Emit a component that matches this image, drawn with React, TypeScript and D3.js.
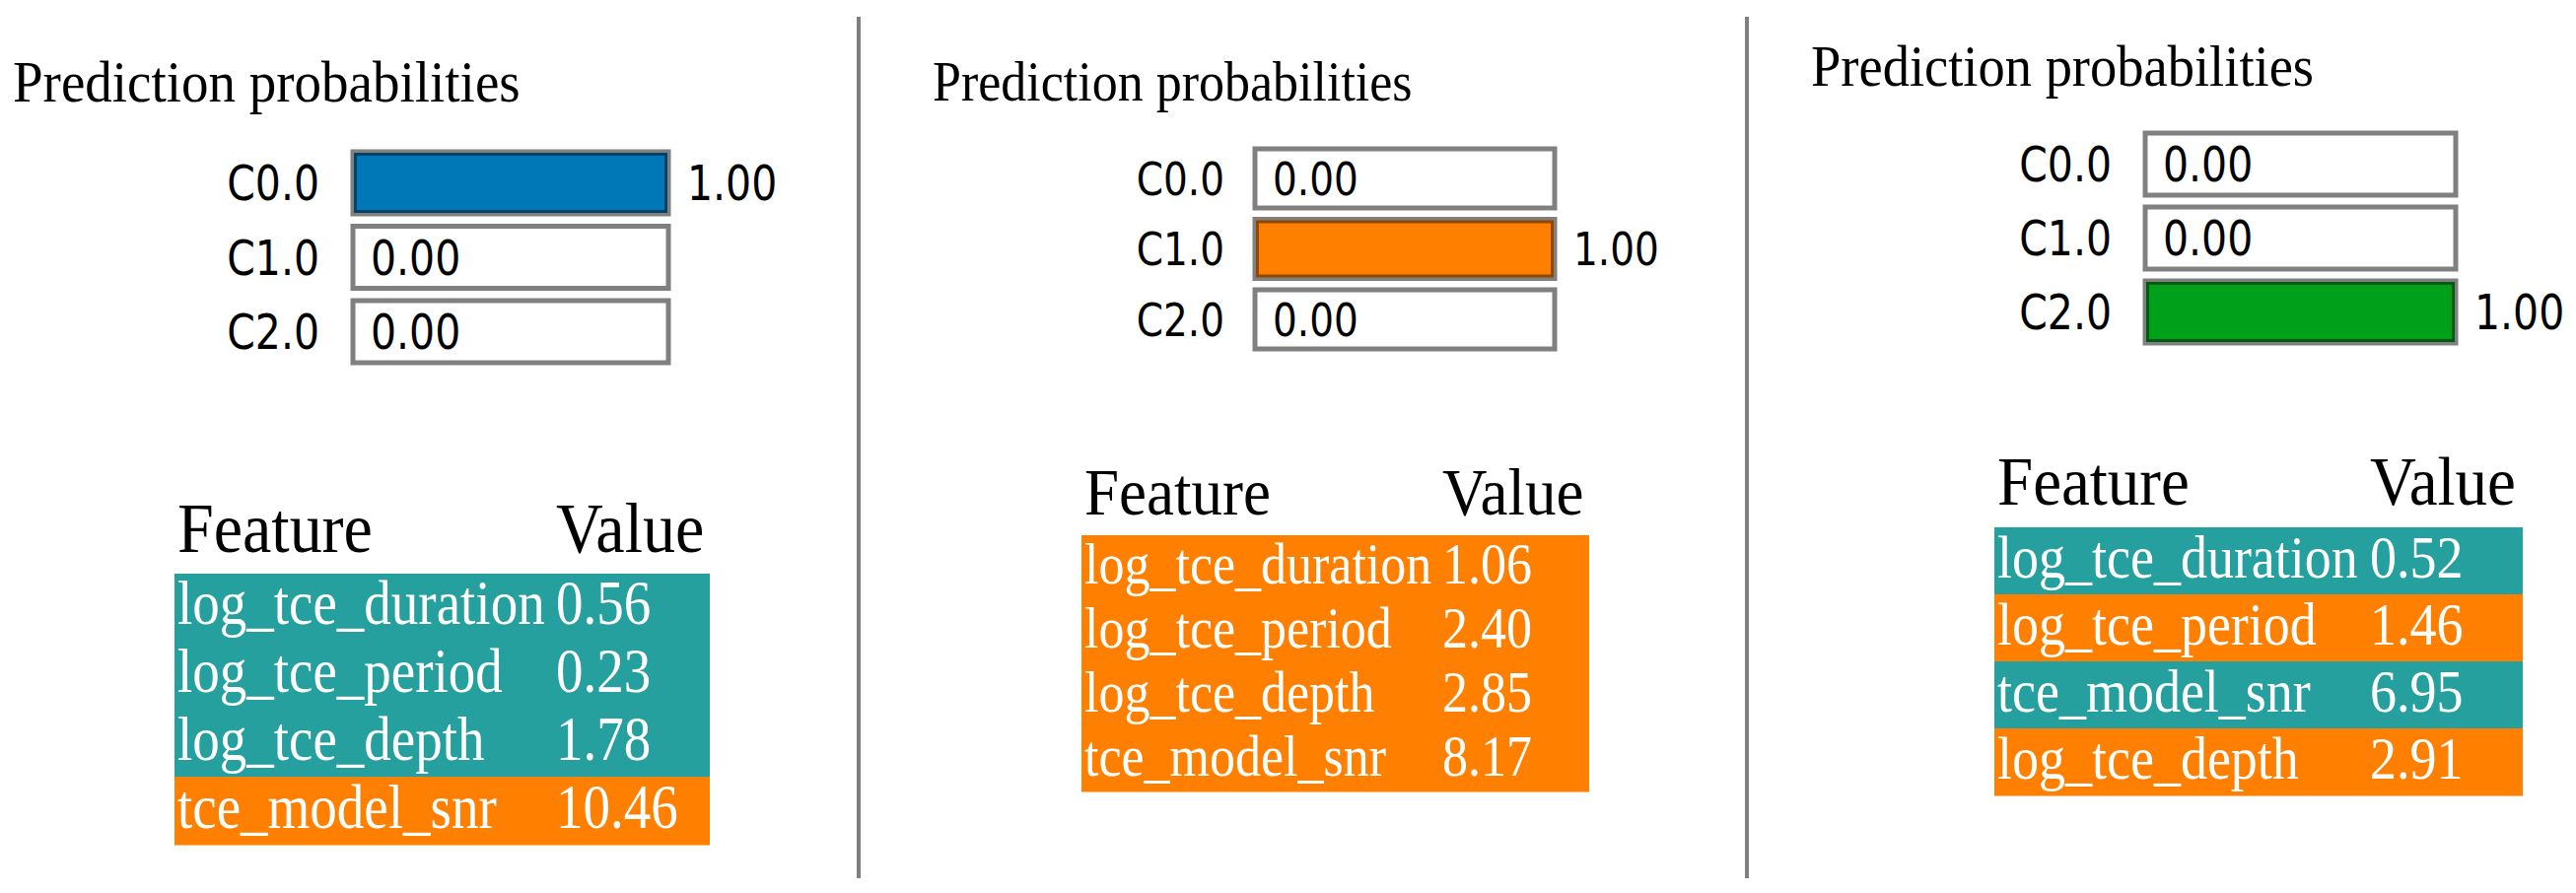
import React from 'react';
import * as d3 from 'd3';

// class names and predicted probabilities for the three explanations
const classNames = ['C0.0', 'C1.0', 'C2.0'];
const probsA = [1.0, 0.0, 0.0];
const probsB = [0.0, 1.0, 0.0];
const probsC = [0.0, 0.0, 1.0];

// feature tables
const featuresA = ['log_tce_duration', 'log_tce_period', 'log_tce_depth', 'tce_model_snr'];
const valuesA = [0.56, 0.23, 1.78, 10.46];
const sidesA = ['neg', 'neg', 'neg', 'pos'];

const featuresB = ['log_tce_duration', 'log_tce_period', 'log_tce_depth', 'tce_model_snr'];
const valuesB = [1.06, 2.40, 2.85, 8.17];
const sidesB = ['pos', 'pos', 'pos', 'pos'];

const featuresC = ['log_tce_duration', 'log_tce_period', 'tce_model_snr', 'log_tce_depth'];
const valuesC = [0.52, 1.46, 6.95, 2.91];
const sidesC = ['neg', 'pos', 'neg', 'pos'];

const classColors = ['#0077b6', '#ff7f00', '#00a01a'];
const sideColors = { pos: '#ff7f00', neg: '#269f9f' };

const W = 2613;
const H = 906;
const dividers = [871, 1772];

const panels = [
  { probs: probsA, features: featuresA, values: valuesA, sides: sidesA,
    titleX: 13, titleY: 103, titleSize: 55,
    labelRight: 324, barX: 358, barW: 320, barTop: 154, barH: 63, barStep: 75.5, labelSize: 41,
    tableX: 177, tableW: 543, headerY: 560, tableTop: 582, rowH: 68.75, textSize: 55, valueX: 564, headerSize: 66 },
  { probs: probsB, features: featuresB, values: valuesB, sides: sidesB,
    titleX: 946, titleY: 102, titleSize: 52,
    labelRight: 1242, barX: 1273, barW: 304, barTop: 151, barH: 60, barStep: 71.5, labelSize: 39,
    tableX: 1097, tableW: 515, headerY: 522, tableTop: 543, rowH: 65, textSize: 52, valueX: 1463, headerSize: 63 },
  { probs: probsC, features: featuresC, values: valuesC, sides: sidesC,
    titleX: 1837, titleY: 87, titleSize: 54.5,
    labelRight: 2142, barX: 2176, barW: 315, barTop: 135, barH: 63, barStep: 75, labelSize: 41,
    tableX: 2023, tableW: 536, headerY: 512, tableTop: 535, rowH: 68, textSize: 54, valueX: 2404, headerSize: 65 },
];

const serif = '"Liberation Serif", "Times New Roman", serif';
const sans = '"DejaVu Sans", Verdana, sans-serif';

// the screenshot's glyphs are taller than they are wide, so text is drawn
// at a bigger size and squeezed back horizontally
function Txt({ x, y, size, k, family, fill = '#000', anchor = 'start', dy = '0', children }) {
  return (
    <text transform={`translate(${x},${y}) scale(${1 / k},1)`} dy={dy}
      fontFamily={family} fontSize={size * k} fill={fill} textAnchor={anchor}>
      {children}
    </text>
  );
}

function Panel({ p }) {
  const x = d3.scaleLinear().domain([0, 1]).range([p.barX, p.barX + p.barW]);
  const y = d3.scaleLinear().domain([0, 1]).range([p.barTop, p.barTop + p.barStep]);
  const rows = d3.scaleBand()
    .domain(d3.range(p.features.length))
    .range([p.tableTop, p.tableTop + p.rowH * p.features.length]);
  const fmt = d3.format('.2f');

  return (
    <g>
      <Txt x={p.titleX} y={p.titleY} size={p.titleSize} k={1.08} family={serif}>
        Prediction probabilities
      </Txt>

      {classNames.map((c, i) => {
        const top = y(i);
        const mid = top + p.barH / 2;
        const v = p.probs[i];
        return (
          <g key={c}>
            <Txt x={p.labelRight} y={mid} dy="0.36em" anchor="end" size={p.labelSize} k={1.2} family={sans}>{c}</Txt>
            <rect x={x(0)} y={top} width={x(1) - x(0)} height={p.barH}
              fill="#fff" stroke="#808080" strokeWidth={5} />
            {v > 0 && (
              <rect x={x(0) + 2.5} y={top + 2.5} width={x(v) - x(0) - 5} height={p.barH - 5}
                fill={classColors[i]} stroke={d3.color(classColors[i]).darker(1.6).formatHex()} strokeWidth={3} />
            )}
            <Txt x={v > 0 ? x(1) + 19 : x(0) + 18} y={mid} dy="0.36em" size={p.labelSize} k={1.2} family={sans}>
              {fmt(v)}
            </Txt>
          </g>
        );
      })}

      <Txt x={p.tableX + 3} y={p.headerY} size={p.headerSize} k={1.08} family={serif}>Feature</Txt>
      <Txt x={p.valueX} y={p.headerY} size={p.headerSize} k={1.08} family={serif}>Value</Txt>

      {p.features.map((f, i) => (
        <g key={f}>
          <rect x={p.tableX} y={rows(i)} width={p.tableW} height={rows.bandwidth() + 0.5}
            fill={sideColors[p.sides[i]]} />
          <Txt x={p.tableX + 3} y={rows(i) + rows.bandwidth() / 2} dy="0.27em"
            size={p.textSize} k={1.14} family={serif} fill="#fff">{f}</Txt>
          <Txt x={p.valueX} y={rows(i) + rows.bandwidth() / 2} dy="0.27em"
            size={p.textSize} k={1.14} family={serif} fill="#fff">{fmt(p.values[i])}</Txt>
        </g>
      ))}
    </g>
  );
}

export default function App() {
  return (
    <svg width={W} height={H} style={{ position: 'absolute', left: 0, top: 0, background: '#fff' }}>
      <rect width={W} height={H} fill="#fff" />
      {dividers.map(d => (
        <line key={d} x1={d} x2={d} y1={17} y2={891} stroke="#7f7f7f" strokeWidth={4} />
      ))}
      {panels.map((p, i) => <Panel key={i} p={p} />)}
    </svg>
  );
}
